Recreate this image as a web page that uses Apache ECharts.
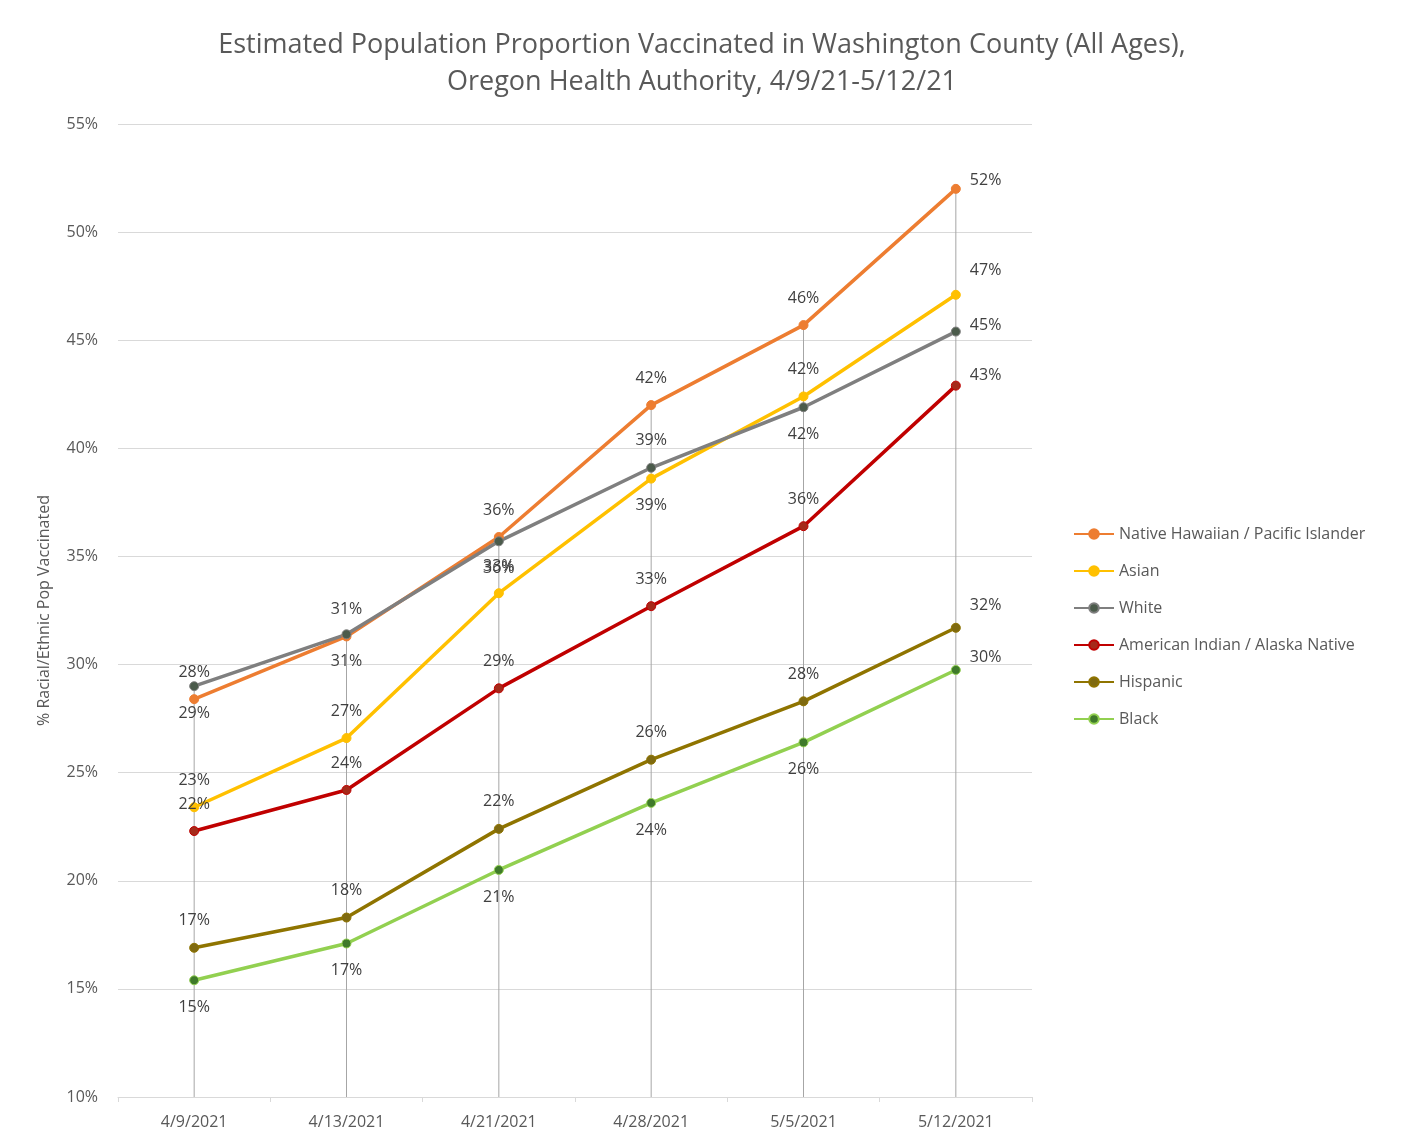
<!DOCTYPE html>
<html><head><meta charset="utf-8">
<script src="https://cdn.jsdelivr.net/npm/echarts@6/dist/echarts.min.js"></script>
<style>html,body{margin:0;padding:0;background:#fff}#c{width:1404px;height:1146px}</style>
</head><body><div id="c"></div>
<script>
const categories = ['4/9/2021','4/13/2021','4/21/2021','4/28/2021','5/5/2021','5/12/2021'];
const nhpi     = [28.4, 31.3, 35.9, 42.0, 45.7, 52.0];
const asian    = [23.4, 26.6, 33.3, 38.6, 42.4, 47.1];
const white    = [29.0, 31.4, 35.7, 39.1, 41.9, 45.4];
const aian     = [22.3, 24.2, 28.9, 32.7, 36.4, 42.9];
const hispanic = [16.9, 18.3, 22.4, 25.6, 28.3, 31.7];
const black    = [15.4, 17.1, 20.5, 23.6, 26.4, 29.75];
const yTicks = {min: 10, max: 55, interval: 5};

const FONT = "'Open Sans', sans-serif";
const seriesDefs = [
  {name:'Native Hawaiian / Pacific Islander', data:nhpi, color:'#ED7D31', marker:'#ED7D31',
   pos:['top','top','top','top','top','right'], rdy:-8},
  {name:'Asian', data:asian, color:'#FFC000', marker:'#FFC000',
   pos:['top','top','top','bottom','top','right'], rdy:-24},
  {name:'White', data:white, color:'#7F7F7F', marker:'#4B5B4B',
   pos:['bottom','bottom','bottom','top','bottom','right'], rdy:-6},
  {name:'American Indian / Alaska Native', data:aian, color:'#C00000', marker:'#A52A1A',
   pos:['top','top','top','top','top','right'], rdy:-10},
  {name:'Hispanic', data:hispanic, color:'#8F7400', marker:'#7F6A10',
   pos:['top','top','top','top','top','right'], rdy:-22},
  {name:'Black', data:black, color:'#92D050', marker:'#3F7A2A',
   pos:['bottom','bottom','bottom','bottom','bottom','right'], rdy:-13}
];
const dropTop = categories.map((c,i)=>Math.max(...seriesDefs.map(s=>s.data[i])));

const series = [{
  type:'bar', name:'drop', data:dropTop, barWidth:1, silent:true, z:1,
  itemStyle:{color:'#A6A6A6'}, legendHoverLink:false
}];
seriesDefs.forEach(s=>{
  series.push({
    type:'line', name:s.name, z:3,
    symbol:'circle', symbolSize:9,
    lineStyle:{width:3.5, color:s.color},
    itemStyle:{color:s.marker, borderColor:s.color, borderWidth:1},
    data:s.data.map((v,i)=>{
      const p=s.pos[i];
      const lab={show:true, position:p, distance: p==='right'?9:14};
      if(p==='right') lab.offset=[0,s.rdy];
      return {value:v, label:lab};
    }),
    label:{color:'#404040', fontSize:16, fontFamily:FONT,
      formatter:(p)=>Math.round(p.value)+'%'}
  });
});

const chart = echarts.init(document.getElementById('c'));
chart.setOption({
  animation:false,
  backgroundColor:'#fff',
  textStyle:{fontFamily:FONT},
  title:{
    text:'Estimated Population Proportion Vaccinated in Washington County (All Ages),\nOregon Health Authority, 4/9/21-5/12/21',
    left:'center', top:22,
    textStyle:{fontSize:27, fontWeight:'normal', color:'#595959', lineHeight:37, fontFamily:FONT}
  },
  legend:{
    orient:'vertical', left:1068, top:521, itemGap:21, itemWidth:40, itemHeight:12,
    data:seriesDefs.map(s=>s.name),
    textStyle:{fontSize:16, color:'#595959', fontFamily:FONT}
  },
  grid:{left:118, right:372, top:124, bottom:49},
  xAxis:{
    type:'category', data:categories, boundaryGap:true,
    axisLine:{lineStyle:{color:'#D9D9D9'}},
    axisTick:{show:true, length:5, lineStyle:{color:'#D9D9D9'}},
    axisLabel:{color:'#595959', fontSize:16, margin:17, fontFamily:FONT}
  },
  yAxis:{
    type:'value', min:yTicks.min, max:yTicks.max, interval:yTicks.interval,
    name:'% Racial/Ethnic Pop Vaccinated', nameLocation:'middle', nameGap:66,
    nameTextStyle:{color:'#595959', fontSize:16, fontFamily:FONT},
    axisLine:{show:false}, axisTick:{show:false},
    splitLine:{lineStyle:{color:'#D9D9D9'}},
    axisLabel:{formatter:'{value}%', color:'#595959', fontSize:16, margin:20, fontFamily:FONT}
  },
  series:series
});
</script></body></html>
